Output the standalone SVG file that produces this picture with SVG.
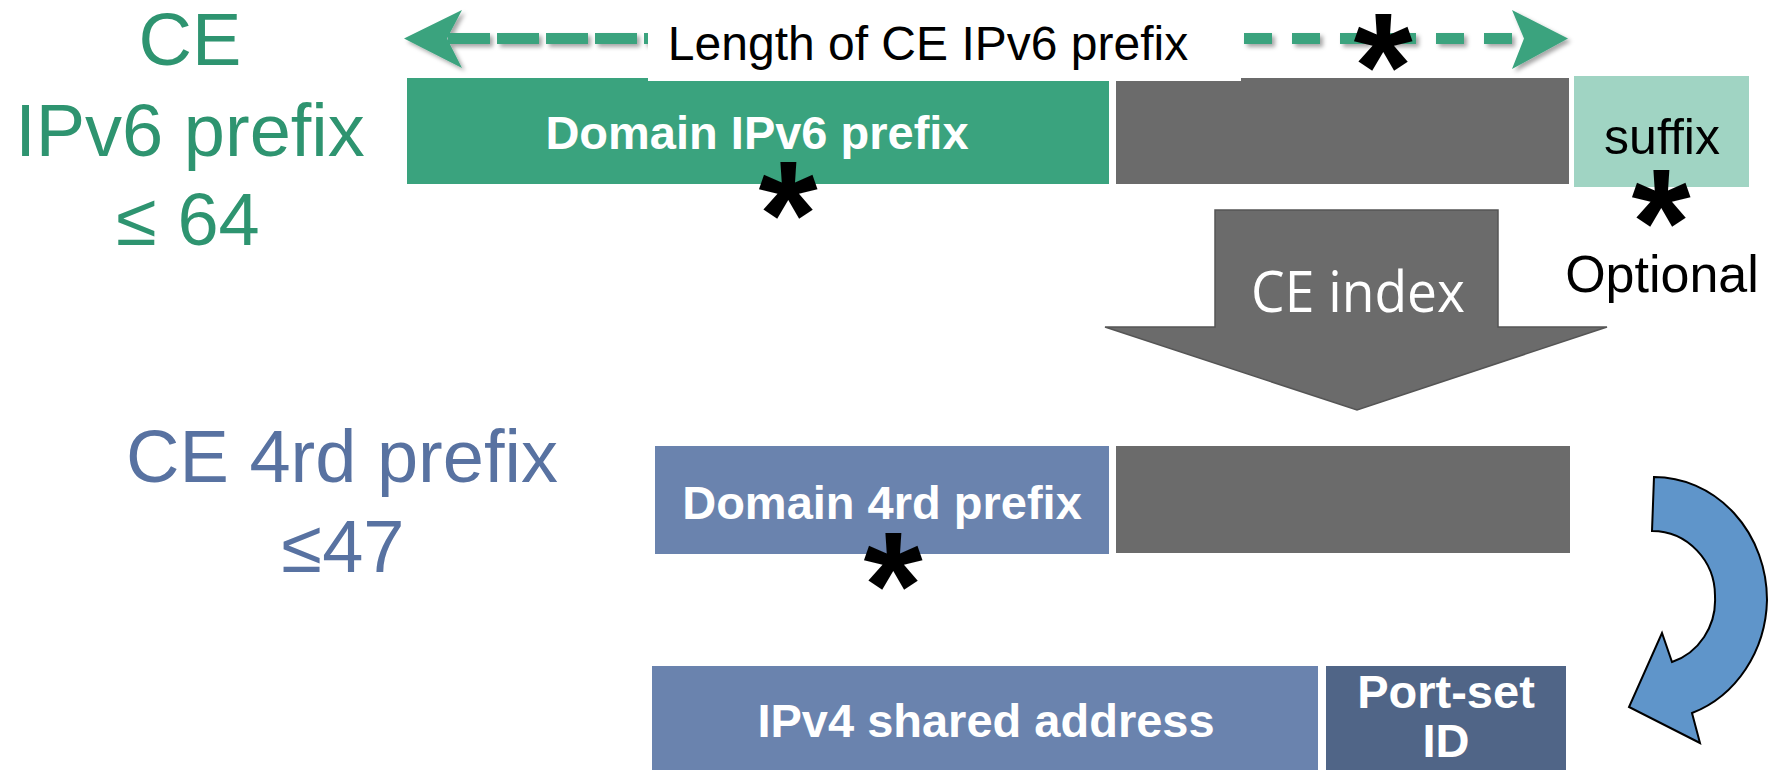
<svg xmlns="http://www.w3.org/2000/svg" width="1773" height="770" viewBox="0 0 1773 770">
<style>
.lbl{font-family:"Liberation Sans",Arial,sans-serif}
.big{font-size:74px;text-anchor:middle}
.grn{fill:#2E9470}
.blu{fill:#5872A1}
.box{font-family:"Liberation Sans",Arial,sans-serif;font-weight:bold;font-size:47px;fill:#fff;text-anchor:middle}
.ast{font-family:"Liberation Sans",Arial,sans-serif;font-weight:bold;font-size:152px;fill:#000;text-anchor:middle}
.dash{stroke:#3AA37E;stroke-width:11;fill:none}
</style>
<defs>
<filter id="sh" x="-10%" y="-50%" width="120%" height="200%">
<feDropShadow dx="3" dy="3" stdDeviation="2" flood-color="#000" flood-opacity="0.35"/>
</filter>
</defs>
<rect width="1773" height="770" fill="#fff"/>

<g id="label-ce-ipv6" class="lbl grn">
<text class="big" x="190" y="65">CE</text>
<text class="big" x="190" y="156">IPv6 prefix</text>
<text class="big" x="188" y="245">≤ 64</text>
</g>
<g id="label-ce-4rd" class="lbl blu">
<text class="big" x="342" y="482">CE 4rd prefix</text>
<text class="big" x="343" y="572">≤47</text>
</g>

<g id="domain-ipv6">
<rect x="407" y="78" width="702" height="106" fill="#3AA37E"/>
<text class="box" x="757" y="149">Domain IPv6 prefix</text>
</g>
<g id="ce-index-bits-top">
<rect x="1116" y="78" width="453" height="106" fill="#6B6B6B"/>
</g>
<g id="suffix">
<rect x="1574" y="76" width="175" height="111" fill="#A0D4C3"/>
<text class="lbl" x="1662" y="154" font-size="50" text-anchor="middle" fill="#000">suffix</text>
</g>

<g id="length-arrow" filter="url(#sh)">
<line class="dash" x1="448" y1="38.5" x2="650" y2="38.5" stroke-dasharray="42 7"/>
<line class="dash" x1="1244" y1="38.5" x2="1515" y2="38.5" stroke-dasharray="28 20"/>
<polygon points="404,38.5 462,10 447,38.5 462,68" fill="#3AA37E"/>
<polygon points="1568,38.5 1512,10 1524,38.5 1512,69" fill="#3AA37E"/>
</g>
<g id="length-label">
<rect x="648" y="0" width="593" height="81" fill="#fff"/>
<text class="lbl" x="928" y="60" font-size="48" text-anchor="middle" fill="#000">Length of CE IPv6 prefix</text>
</g>

<g id="ce-index-arrow">
<polygon points="1215,210 1498,210 1498,327 1607,327 1357,410 1105,327 1215,327" fill="#6B6B6B" stroke="#555" stroke-width="1.5"/>
<text x="1358" y="312" font-family="'Open Sans','Noto Sans',sans-serif" font-size="56" fill="#fff" text-anchor="middle" textLength="214" lengthAdjust="spacingAndGlyphs">CE index</text>
</g>
<g id="optional">
<text class="lbl" x="1662" y="292" font-size="52" text-anchor="middle" fill="#000">Optional</text>
</g>

<g id="domain-4rd">
<rect x="655" y="446" width="454" height="108" fill="#6A83AE"/>
<text class="box" x="882" y="519">Domain 4rd prefix</text>
</g>
<g id="ce-index-bits-mid">
<rect x="1116" y="446" width="454" height="107" fill="#6B6B6B"/>
</g>
<g id="ipv4-shared">
<rect x="652" y="666" width="666" height="104" fill="#6A83AE"/>
<text class="box" x="986" y="737">IPv4 shared address</text>
</g>
<g id="port-set">
<rect x="1326" y="666" width="240" height="104" fill="#506587"/>
<text class="box" x="1446" y="708" font-size="53">Port-set</text>
<text class="box" x="1446" y="757" font-size="53">ID</text>
</g>

<g id="connectors">
<path d="M1654,477 A113,123 0 0 1 1767,600 A113,123 0 0 1 1692,713 L1700,743 L1629,707 L1662,633 L1672,662 A63,65 0 0 0 1715,597 A63,65 0 0 0 1652,531 Z" fill="#5F95CA" stroke="#000" stroke-width="2" stroke-linejoin="miter"/>
</g>

<g id="asterisks">
<text class="ast" x="1383" y="119">*</text>
<text class="ast" x="788" y="267">*</text>
<text class="ast" x="1661" y="275">*</text>
<text class="ast" x="893" y="638">*</text>
</g>
</svg>
